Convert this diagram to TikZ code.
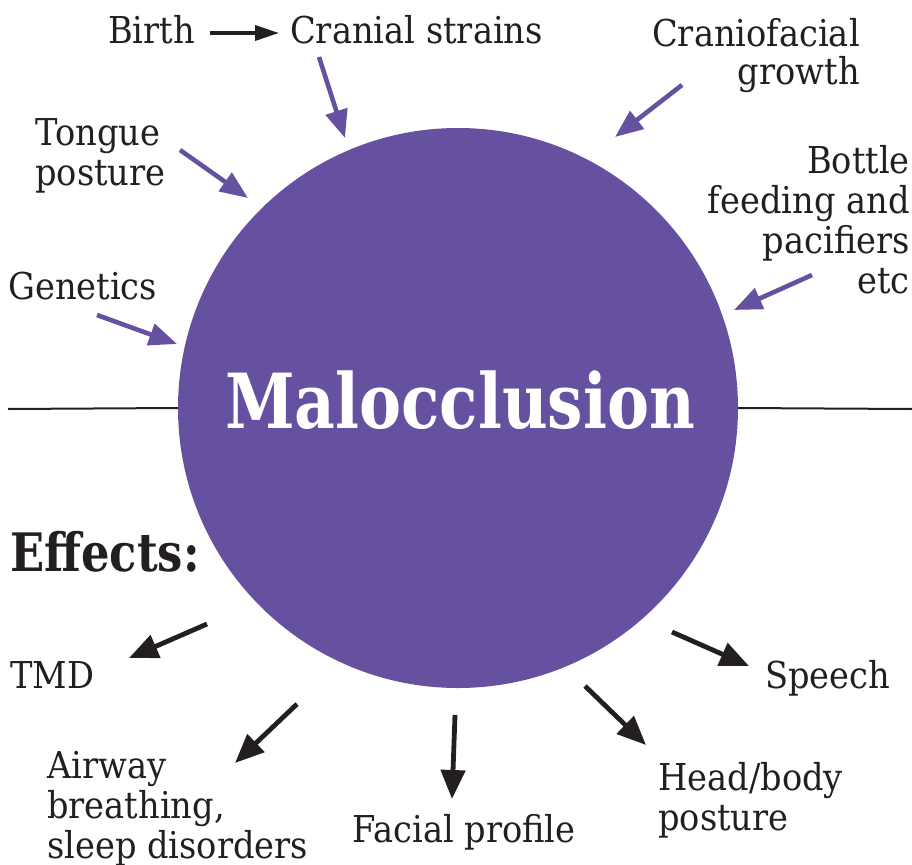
\documentclass[tikz,border=0pt]{standalone}
\usepackage{fontspec}
\usepackage{graphicx}
\setmainfont{DejaVu Serif}[FakeStretch=0.91]
\usetikzlibrary{arrows.meta}
\definecolor{purp}{RGB}{102,81,160}
\definecolor{ink}{RGB}{35,31,32}
\begin{document}
\begin{tikzpicture}[x=1pt,y=-1pt,
  lbl/.style={inner sep=0pt, font=\fontsize{37}{40}\selectfont, text=ink},
  parr/.style={draw=purp, line width=4.6pt, -{Triangle[length=28pt,width=22pt]}, color=purp},
  barr/.style={draw=ink, line width=4.8pt, -{Triangle[length=29pt,width=24pt]}, color=ink},
  sarr/.style={draw=ink, line width=3.6pt, -{Triangle[length=24pt,width=15pt]}, color=ink}]
\useasboundingbox (0,0) rectangle (912,864);
% divider
\coordinate (lineL) at (8,409);
\coordinate (lineR) at (912,409);
\node[circle, fill=purp, minimum size=560pt, inner sep=0pt] (mal) at (458,408) {};
\draw[ink, line width=2pt] (lineL) -- (mal.west);
\draw[ink, line width=2pt] (mal.east) -- (lineR);
\node[inner sep=0pt, anchor=base, text=white, font=\fontsize{76}{80}\bfseries] (maltext) at (460,428) {\scalebox{0.91}[1]{Malocclusion}};
% causes
\node[lbl, anchor=base west] (birth) at (108,44) {Birth};
\node[lbl, anchor=base west] (cranial) at (290,44) {Cranial strains};
\node[lbl, anchor=base west] (tongueA) at (35,145) {Tongue};
\node[lbl, anchor=base west] (tongueB) at (35,185) {posture};
\node[lbl, anchor=base east] (cranioA) at (860,47) {Craniofacial};
\node[lbl, anchor=base east] (cranioB) at (860,85) {growth};
\node[lbl, anchor=base east] (bottleA) at (910,173) {Bottle};
\node[lbl, anchor=base east] (bottleB) at (910,213) {feeding and};
\node[lbl, anchor=base east] (bottleC) at (910,253) {pacifiers};
\node[lbl, anchor=base east] (bottleD) at (910,293) {etc};
\node[lbl, anchor=base west] (genetics) at (8,299) {Genetics};
% effects
\node[inner sep=0pt, anchor=base west, text=ink, font=\fontsize{53}{56}\bfseries] (effects) at (10,571) {\scalebox{0.93}[1]{Effects:}};
\node[lbl, anchor=base west] (tmd) at (10,688) {TMD};
\node[lbl, anchor=base west] (airA) at (47,778) {Airway};
\node[lbl, anchor=base west] (airB) at (47,818) {breathing,};
\node[lbl, anchor=base west] (airC) at (47,858) {sleep disorders};
\node[lbl, anchor=base west] (facial) at (352,842) {Facial profile};
\node[lbl, anchor=base west] (headA) at (658,790) {Head/body};
\node[lbl, anchor=base west] (headB) at (658,830) {posture};
\node[lbl, anchor=base west] (speech) at (765,688) {Speech};
% arrow end points
\coordinate (bS) at (210,33); \coordinate (bE) at (279,33);
\coordinate (cS) at (319,57); \coordinate (cE) at (345,138);
\coordinate (tS) at (180,150); \coordinate (tE) at (248,198);
\coordinate (gS) at (682,85); \coordinate (gE) at (615,137);
\coordinate (boS) at (812,275); \coordinate (boE) at (734,310);
\coordinate (geS) at (97,315); \coordinate (geE) at (177,344);
\coordinate (tmS) at (207,624); \coordinate (tmE) at (129,658);
\coordinate (aS) at (297,704); \coordinate (aE) at (235,763);
\coordinate (fS) at (455,715); \coordinate (fE) at (452,799);
\coordinate (hS) at (585,686); \coordinate (hE) at (646,745);
\coordinate (sS) at (672,632); \coordinate (sE) at (749,666);
\draw[sarr] (bS) -- (bE);
\draw[parr] (cS) -- (cE);
\draw[parr] (tS) -- (tE);
\draw[parr] (gS) -- (gE);
\draw[parr] (boS) -- (boE);
\draw[parr] (geS) -- (geE);
\draw[barr] (tmS) -- (tmE);
\draw[barr] (aS) -- (aE);
\draw[barr] (fS) -- (fE);
\draw[barr] (hS) -- (hE);
\draw[barr] (sS) -- (sE);
\end{tikzpicture}
\end{document}
